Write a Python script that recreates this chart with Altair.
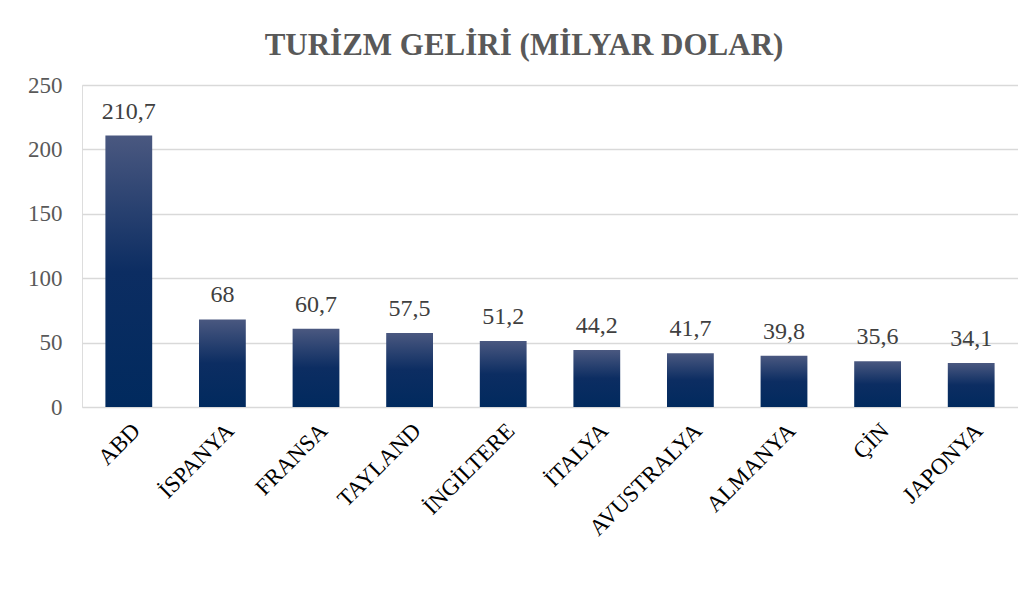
import altair as alt
import pandas as pd

countries = ["ABD", "İSPANYA", "FRANSA", "TAYLAND", "İNGİLTERE", "İTALYA",
             "AVUSTRALYA", "ALMANYA", "ÇİN", "JAPONYA"]
values = [210.7, 68, 60.7, 57.5, 51.2, 44.2, 41.7, 39.8, 35.6, 34.1]
labels = [f"{v:g}".replace(".", ",") for v in values]
y_ticks = [0, 50, 100, 150, 200, 250]

df = pd.DataFrame({"country": countries, "value": values, "label": labels})

SERIF = "Liberation Serif, Times New Roman, serif"

gradient = alt.Gradient(
    gradient="linear",
    stops=[
        alt.GradientStop(color="#4a5880", offset=0),
        alt.GradientStop(color="#0c2d62", offset=0.5),
        alt.GradientStop(color="#012a5e", offset=1),
    ],
    x1=0, x2=0, y1=0, y2=1,
)

yscale = alt.Scale(domain=[0, 250], nice=False)

x = alt.X("country:N", sort=countries, title=None,
          scale=alt.Scale(paddingInner=0.5, paddingOuter=0.25),
          axis=alt.Axis(labelAngle=-45, labelFont=SERIF, labelFontSize=23,
                        labelColor="#000000", labelPadding=12, ticks=False, domain=False,
                        grid=False))
y = alt.Y("value:Q", title=None, scale=yscale,
          axis=alt.Axis(values=y_ticks, labelFont=SERIF, labelFontSize=23,
                        labelColor="#595959", labelPadding=20, ticks=False, domain=False,
                        grid=True, gridColor="#d9d9d9", gridWidth=1.5))

bars = alt.Chart(df).mark_bar(color=gradient).encode(x=x, y=y)
text = alt.Chart(df).mark_text(baseline="bottom", dy=-12, font=SERIF,
                               fontSize=24, color="#404040").encode(
    x=alt.X("country:N", sort=countries),
    y=alt.Y("value:Q", scale=yscale),
    text="label:N")

chart = (bars + text).properties(
    width=936, height=322,
    autosize=alt.AutoSizeParams(type="none"),
    padding={"left": 74, "top": 77, "right": 0, "bottom": 150},
    title=alt.TitleParams("TURİZM GELİRİ (MİLYAR DOLAR)", font=SERIF,
                          fontSize=31, fontWeight="bold", color="#595959",
                          anchor="middle", dx=-26, offset=12),
).configure_view(stroke=None).configure(background="white")

chart.save("out.html", embed_options={"renderer": "svg", "actions": False})
